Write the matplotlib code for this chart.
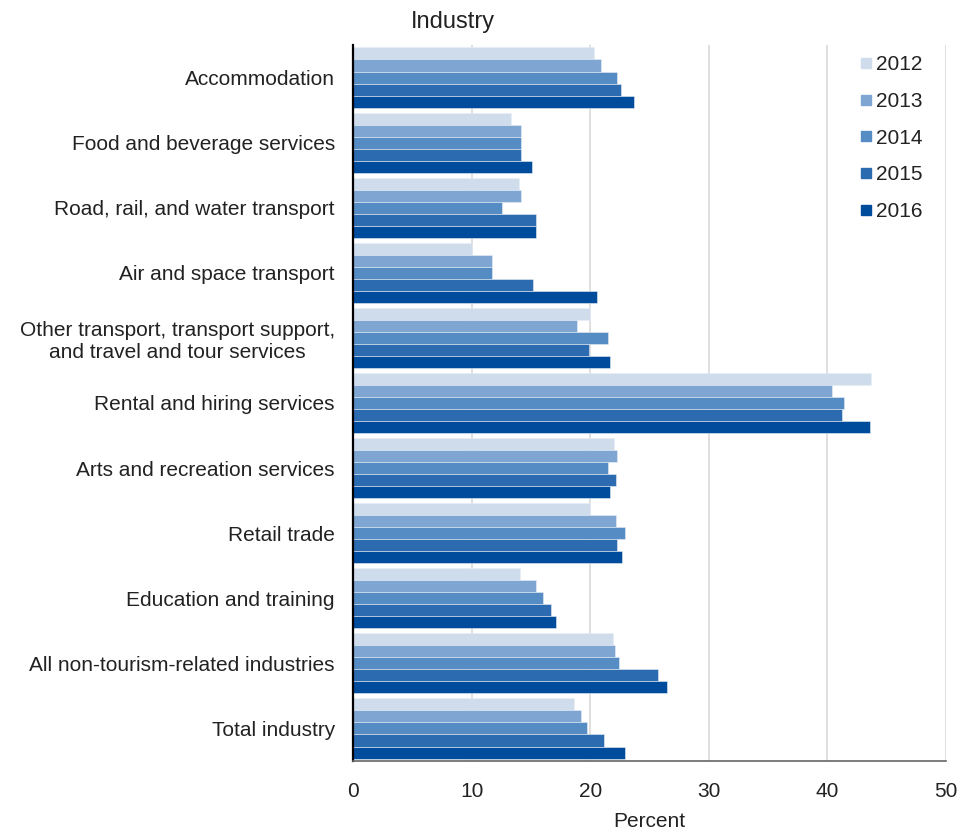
import matplotlib
matplotlib.use("Agg")
import matplotlib.pyplot as plt
import numpy as np
from matplotlib.lines import Line2D

plt.rcParams['font.family'] = ['Liberation Sans', 'DejaVu Sans']

categories = [
    "Accommodation",
    "Food and beverage services",
    "Road, rail, and water transport",
    "Air and space transport",
    "Other transport, transport support,\nand travel and tour services",
    "Rental and hiring services",
    "Arts and recreation services",
    "Retail trade",
    "Education and training",
    "All non-tourism-related industries",
    "Total industry",
]
years = ["2012", "2013", "2014", "2015", "2016"]
v2012 = [20.3, 13.3, 14.0, 10.0, 20.0, 43.7, 22.0, 20.0, 14.1, 21.9, 18.6]
v2013 = [20.9, 14.2, 14.2, 11.7, 18.9, 40.4, 22.3, 22.2, 15.4, 22.1, 19.2]
v2014 = [22.3, 14.2, 12.6, 11.7, 21.5, 41.4, 21.5, 22.9, 16.0, 22.4, 19.7]
v2015 = [22.6, 14.2, 15.4, 15.2, 19.9, 41.2, 22.2, 22.3, 16.7, 25.7, 21.2]
v2016 = [23.7, 15.1, 15.4, 20.6, 21.7, 43.6, 21.7, 22.7, 17.1, 26.5, 22.9]
series = [v2012, v2013, v2014, v2015, v2016]
colors = ["#cedcec", "#7fa6d2", "#558cc3", "#2c6baf", "#004c9c"]

FS = 15
fig = plt.figure(figsize=(9.62, 8.32), dpi=100)
ax = fig.add_axes([353/962, 1-761/832, (946-353)/962, (761-45)/832])

n = len(categories)
y = np.arange(n)
h = 0.185
for i, (vals, c, yr) in enumerate(zip(series, colors, years)):
    ax.barh(y + (i - 2) * h, vals, height=h, color=c, edgecolor='#e8eef6',
            linewidth=0.4, label=yr, zorder=3)

ax.set_ylim(n - 0.5, -0.5)
ax.set_xlim(0, 50)
ax.set_xticks([0, 10, 20, 30, 40, 50])
ax.set_yticks(y)
ax.set_yticklabels(categories, fontsize=FS, color='#222222')
for lbl in ax.get_yticklabels():
    lbl.set_multialignment('center')
ax.tick_params(axis='y', length=0, pad=13)
ax.tick_params(axis='x', labelsize=FS, colors='#222222', length=0, pad=15)
ax.xaxis.grid(True, color='#d9d9d9', linewidth=1.2, zorder=0)
ax.set_axisbelow(True)
for s in ['top', 'right']:
    ax.spines[s].set_visible(False)
ax.spines['left'].set_color('#000000')
ax.spines['left'].set_linewidth(1.6)
ax.spines['left'].set_zorder(5)
ax.spines['bottom'].set_color('#666666')
ax.spines['bottom'].set_linewidth(1.2)
ax.spines['bottom'].set_zorder(5)

ax.set_xlabel("Percent", fontsize=FS, color='#222222', labelpad=8)
fig.text(411/962, 1-22/832, "Industry", fontsize=17, color='#222222', va='center', ha='left')

handles = [Line2D([0], [0], marker='s', color='w', markerfacecolor=c, markeredgecolor=c,
                  markersize=7.5, linestyle='None') for c in colors]
leg = ax.legend(handles, years, loc='upper right', bbox_to_anchor=(0.985, 1.006), frameon=False,
                fontsize=FS, handlelength=0.6, handletextpad=0.2, labelspacing=0.85,
                borderaxespad=0.3)
for t in leg.get_texts():
    t.set_color('#222222')

fig.savefig("out.png", dpi=100, facecolor='white')
